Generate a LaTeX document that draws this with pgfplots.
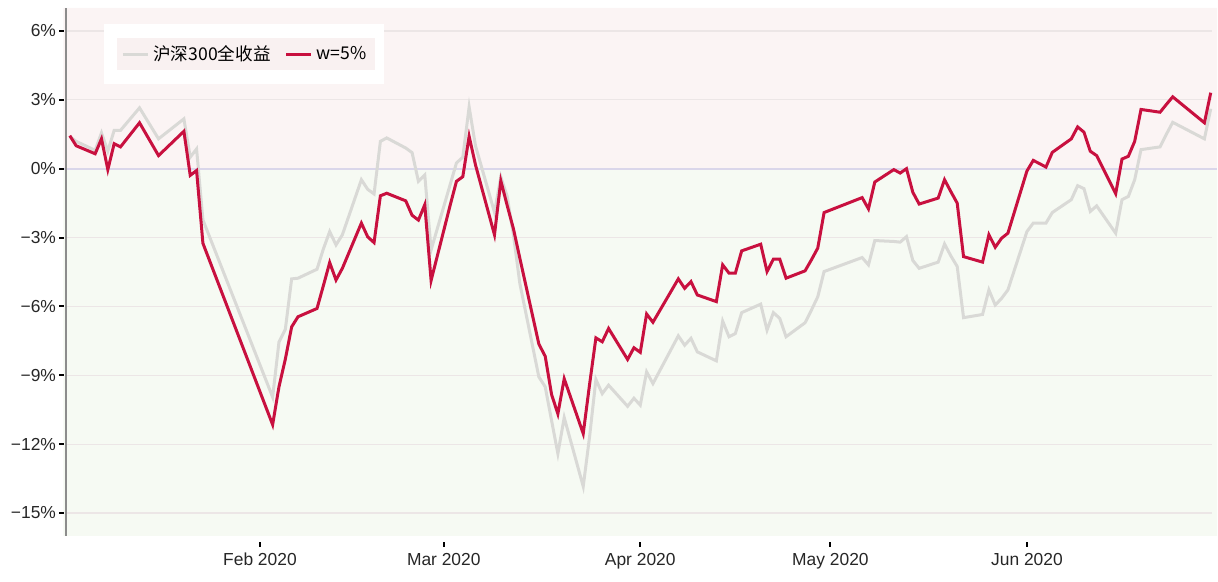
\documentclass[border=0pt]{standalone}
\usepackage{fontspec}
\setmainfont{Liberation Sans}
\newfontfamily\cjk{Noto Sans CJK SC}
\usepackage{pgfplots}
\usepackage{pgfplotstable}
\pgfplotsset{compat=1.18}

\definecolor{wred}{HTML}{C8103F}
\definecolor{csigray}{HTML}{D9D9D6}
\definecolor{pinkbg}{HTML}{FBF4F4}
\definecolor{greenbg}{HTML}{F6FAF3}
\definecolor{zeroc}{HTML}{DAD6EA}
\definecolor{gridc}{HTML}{ECE6E6}
\definecolor{legpink}{HTML}{F9F1F1}

% day = days since 1 Jan 2020, csi = CSI300 total return (%), w = w=5% (%)
\pgfplotstableread{
day csi w
1 1.40 1.44
2 1.19 1.00
5 0.80 0.65
6 1.56 1.30
7 0.76 -0.04
8 1.67 1.09
9 1.67 0.95
12 2.65 2.00
15 1.30 0.57
19 2.17 1.63
20 0.50 -0.29
21 0.86 -0.08
22 -2.23 -3.25
33 -9.95 -11.15
34 -7.55 -9.50
35 -7.00 -8.30
36 -4.80 -6.89
37 -4.77 -6.45
40 -4.38 -6.09
41 -3.50 -5.10
42 -2.74 -4.09
43 -3.32 -4.85
44 -2.88 -4.34
47 -0.48 -2.37
48 -0.90 -2.97
49 -1.10 -3.22
50 1.19 -1.18
51 1.34 -1.07
54 0.90 -1.40
55 0.70 -2.03
56 -0.55 -2.24
57 -0.27 -1.57
58 -3.54 -4.87
61 -0.70 -1.60
62 0.25 -0.55
63 0.50 -0.35
64 2.69 1.41
65 1.00 0.17
68 -1.90 -2.88
69 -0.36 -0.53
70 -1.20 -1.60
71 -2.90 -2.63
72 -5.00 -3.90
75 -9.07 -7.64
76 -9.50 -8.17
77 -10.96 -9.83
78 -12.41 -10.68
79 -10.84 -9.15
82 -13.84 -11.54
83 -11.68 -9.40
84 -9.18 -7.37
85 -9.80 -7.54
86 -9.43 -6.96
89 -10.35 -8.31
90 -10.00 -7.80
91 -10.30 -8.00
92 -8.85 -6.33
93 -9.36 -6.69
97 -7.28 -4.80
98 -7.69 -5.21
99 -7.39 -4.92
100 -7.98 -5.50
103 -8.37 -5.79
104 -6.64 -4.19
105 -7.32 -4.55
106 -7.18 -4.55
107 -6.27 -3.58
110 -5.90 -3.29
111 -7.03 -4.48
112 -6.27 -3.94
113 -6.52 -3.94
114 -7.32 -4.77
117 -6.71 -4.45
118 -6.16 -3.97
119 -5.58 -3.46
120 -4.48 -1.91
126 -3.87 -1.26
127 -4.19 -1.75
128 -3.13 -0.58
131 -3.17 -0.04
132 -3.20 -0.19
133 -2.96 0.00
134 -4.00 -1.03
135 -4.34 -1.54
138 -4.07 -1.28
139 -3.28 -0.48
140 -3.80 -1.00
141 -4.26 -1.50
142 -6.49 -3.83
145 -6.35 -4.07
146 -5.28 -2.88
147 -5.94 -3.42
148 -5.65 -3.03
149 -5.28 -2.81
152 -2.74 -0.10
153 -2.37 0.36
154 -2.37 0.22
155 -2.37 0.07
156 -1.91 0.71
159 -1.35 1.30
160 -0.74 1.82
161 -0.87 1.59
162 -1.86 0.76
163 -1.62 0.57
166 -2.81 -1.09
167 -1.35 0.42
168 -1.21 0.54
169 -0.48 1.19
170 0.83 2.58
173 0.95 2.46
174 1.50 2.80
175 2.02 3.13
180 1.30 2.00
181 2.61 3.31
}\data

\begin{document}
\begin{tikzpicture}
\begin{axis}[
    set layers,
    scale only axis,
    width=573pt, height=264pt,
    xmin=0.4, xmax=181.2,
    ymin=-16, ymax=7,
    axis x line*=bottom,
    axis y line*=left,
    x axis line style={draw=none},
    y axis line style={draw=black!45, line width=1pt},
    xtick={31,60,91,121,152},
    xticklabels={Feb 2020,Mar 2020,Apr 2020,May 2020,Jun 2020},
    ytick={-15,-12,-9,-6,-3,0,3,6},
    yticklabels={−15\%,−12\%,−9\%,−6\%,−3\%,0\%,3\%,6\%},
    tick align=outside,
    major tick length=2.5pt,
    tick style={black, line width=1pt},
    xtick style={yshift=-3pt},
    ytick style={xshift=-1pt},
    ticklabel style={font=\fontsize{8.7}{10}\selectfont, text=black!85},
    xticklabel style={yshift=-2.6pt},
    yticklabel style={xshift=1pt},
    ymajorgrids,
    grid style={gridc, line width=0.6pt},
    legend columns=2,
    legend style={at={(0.0445,0.9432)}, anchor=north west,
        fill=legpink, draw=none, inner xsep=2pt, inner ysep=1.5pt,
        font=\cjk\fontsize{8.8}{10}\selectfont,
        /tikz/every even column/.append style={column sep=5pt}},
    legend image code/.code={\draw[#1] (0pt,0pt) -- (12.5pt,0pt);},
]
\addplot[draw=none, fill=pinkbg, on layer=axis background, forget plot]
    coordinates {(0,0) (182,0) (182,7) (0,7) (0,0)};
\addplot[draw=none, fill=greenbg, on layer=axis background, forget plot]
    coordinates {(0,0) (182,0) (182,-16) (0,-16) (0,0)};
\addplot[zeroc, line width=1pt, on layer=axis grid, forget plot]
    coordinates {(0,0) (182,0)};

\addplot[csigray, line width=1.5pt] table[x=day, y=csi] {\data};
\addlegendentry{沪深300全收益}
\addplot[wred, line width=1.5pt] table[x=day, y=w] {\data};
\addlegendentry{w=5\%}

\fill[white] (rel axis cs:0.0332,0.856) rectangle (rel axis cs:0.2775,0.9697);
\end{axis}
\path ([xshift=-33pt,yshift=-23pt]current axis.south west)
    rectangle ([xshift=3pt,yshift=4pt]current axis.north east);
\end{tikzpicture}
\end{document}
